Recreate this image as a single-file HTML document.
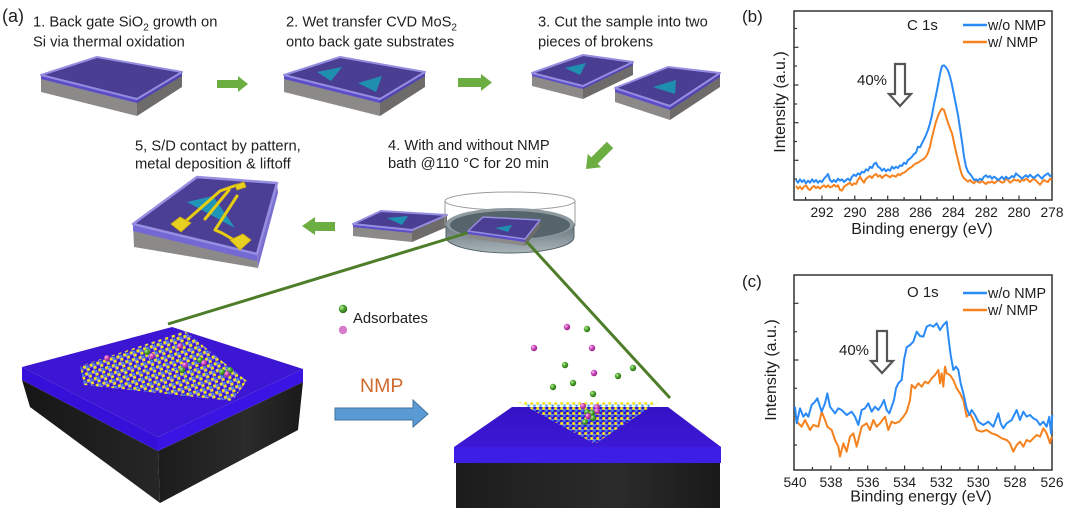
<!DOCTYPE html>
<html><head><meta charset="utf-8"><style>
html,body{margin:0;padding:0;background:#fff;}
svg{display:block;}
text{font-family:"Liberation Sans",Arial,sans-serif;fill:#1e1e1e;}
</style></head><body>
<svg width="1071" height="517" viewBox="0 0 1071 517" xmlns="http://www.w3.org/2000/svg">
<defs>
<radialGradient id="gG" cx="35%" cy="35%" r="70%"><stop offset="0" stop-color="#c4f0a8"/><stop offset="0.45" stop-color="#4fa62f"/><stop offset="1" stop-color="#2a6a16"/></radialGradient>
<radialGradient id="gP" cx="35%" cy="35%" r="70%"><stop offset="0" stop-color="#f8c8f0"/><stop offset="0.45" stop-color="#cf48bb"/><stop offset="1" stop-color="#8a1f7e"/></radialGradient>
<linearGradient id="liq" x1="0" y1="0" x2="0" y2="1"><stop offset="0" stop-color="#66747b"/><stop offset="1" stop-color="#aab5ba"/></linearGradient>
<linearGradient id="blk1" x1="0" y1="0" x2="1" y2="0"><stop offset="0" stop-color="#161616"/><stop offset="1" stop-color="#262626"/></linearGradient>
<linearGradient id="blk2" x1="0" y1="0" x2="1" y2="0"><stop offset="0" stop-color="#1c1c1c"/><stop offset="0.6" stop-color="#2b2b2b"/><stop offset="1" stop-color="#1a1a1a"/></linearGradient>
<linearGradient id="topR" x1="0" y1="0" x2="0" y2="1"><stop offset="0" stop-color="#3512c4"/><stop offset="1" stop-color="#3d18d6"/></linearGradient>
<pattern id="lat1" width="7" height="7" patternUnits="userSpaceOnUse" patternTransform="translate(82,366) rotate(-17)">
 <path d="M0 3.5H7M3.5 0V7" stroke="#b9c6f2" stroke-width="0.6"/>
 <circle cx="1.8" cy="1.8" r="1.5" fill="#f2e812"/>
 <circle cx="5.2" cy="5.2" r="1.5" fill="#f2e812"/>
 <circle cx="5.2" cy="1.8" r="1.1" fill="#38a8e4"/>
</pattern>
<pattern id="lat2" width="6" height="5" patternUnits="userSpaceOnUse" patternTransform="translate(518,402)">
 <path d="M0 2.5H6M3 0V5" stroke="#a9c6f0" stroke-width="0.5"/>
 <circle cx="1.6" cy="1.4" r="1.45" fill="#f2e812"/>
 <circle cx="4.6" cy="3.8" r="1.1" fill="#2f9ee6"/>
</pattern>
</defs>

<!-- ===== Panel (a) texts ===== -->
<text x="2" y="22" font-size="18">(a)</text>
<text x="33" y="26.5" font-size="14.7">1. Back gate SiO<tspan font-size="10" dy="4">2</tspan><tspan dy="-4"> growth on</tspan></text>
<text x="33" y="46.5" font-size="14.7">Si via thermal oxidation</text>
<text x="286" y="26.5" font-size="14.7">2. Wet transfer CVD MoS<tspan font-size="10" dy="4">2</tspan></text>
<text x="286" y="46.5" font-size="14.7">onto back gate substrates</text>
<text x="538" y="26.5" font-size="14.7">3. Cut the sample into two</text>
<text x="538" y="46.5" font-size="14.7">pieces of brokens</text>
<text x="388" y="150" font-size="14.7">4. With and without NMP</text>
<text x="388" y="168" font-size="14.7">bath @110 °C for 20 min</text>
<text x="135" y="150.5" font-size="14.7">5, S/D contact by pattern,</text>
<text x="135" y="168.5" font-size="14.7">metal deposition &amp; liftoff</text>

<!-- Chip 1 -->
<g>
<polygon points="41,75 137,99 137,116 41,92" fill="#8c8a88"/>
<polygon points="137,99 182,72 182,87 137,116" fill="#6e6c6b"/>
<polygon points="41,75 137,99 137,103 41,79" fill="#5b4ec8"/>
<polygon points="137,99 182,72 182,76 137,103" fill="#5044b2"/>
<polygon points="41,75 97,57 182,72 137,99" fill="#4a3e92" stroke="#958de0" stroke-width="2" stroke-linejoin="round"/>
</g>
<!-- Chip 2 -->
<g>
<polygon points="284,75 380,99 380,116 284,92" fill="#8c8a88"/>
<polygon points="380,99 425,72 425,87 380,116" fill="#6e6c6b"/>
<polygon points="284,75 380,99 380,103 284,79" fill="#5b4ec8"/>
<polygon points="380,99 425,72 425,76 380,103" fill="#5044b2"/>
<polygon points="284,75 340,57 425,72 380,99" fill="#4a3e92" stroke="#958de0" stroke-width="2" stroke-linejoin="round"/>
<polygon points="317,72 342,67 331,81" fill="#1f8fb0"/>
<polygon points="358,83 382,76 376,92" fill="#1f8fb0"/>
</g>
<!-- Chip 3a -->
<g>
<polygon points="532,73 583,86 583,99 532,86" fill="#8c8a88"/>
<polygon points="583,86 633,62 633,75 583,99" fill="#6e6c6b"/>
<polygon points="532,73 583,86 583,89 532,76" fill="#5b4ec8"/>
<polygon points="583,86 633,62 633,65 583,89" fill="#5044b2"/>
<polygon points="532,73 583,55 633,62 583,86" fill="#4a3e92" stroke="#958de0" stroke-width="2" stroke-linejoin="round"/>
<polygon points="565,68 586,63 580,75" fill="#1f8fb0"/>
</g>
<!-- Chip 3b -->
<g>
<polygon points="615,88 670,106 670,120 615,102" fill="#8c8a88"/>
<polygon points="670,106 720,73 720,87 670,120" fill="#6e6c6b"/>
<polygon points="615,88 670,106 670,110 615,92" fill="#5b4ec8"/>
<polygon points="670,106 720,73 720,77 670,110" fill="#5044b2"/>
<polygon points="615,88 668,67 720,73 670,106" fill="#4a3e92" stroke="#958de0" stroke-width="2" stroke-linejoin="round"/>
<polygon points="653,87 676,80 675,94" fill="#1f8fb0"/>
</g>

<!-- Green arrows -->
<polygon points="217,80 238,80 238,76 248,84 238,92 238,88 217,88" fill="#6cae42"/>
<polygon points="458,78 481,78 481,74 492,82.5 481,91 481,87 458,87" fill="#6cae42"/>
<polygon points="17,-4.5 -5,-4.5 -5,-9.5 -17,0 -5,9.5 -5,4.5 17,4.5" fill="#6cae42" transform="translate(598,157) rotate(-45)"/>
<polygon points="335,222 315,222 315,217 302,226 315,235 315,231 335,231" fill="#6cae42"/>

<!-- Chip 5 -->
<g>
<polygon points="133,224 257,254 258,268 134,247" fill="#8c8a88"/>
<polygon points="133,224 257,254 257,261 133,231" fill="#7468d4"/>
<polygon points="257,254 277,183 278,193 258,268" fill="#7a70cf"/>
<polygon points="133,224 197,177 277,183 257,254" fill="#4b3f95" stroke="#968ee0" stroke-width="2.5" stroke-linejoin="round"/>
<polygon points="187,202 213,196 235,228" fill="#1f95b8"/>
<g stroke="#e6cc10" stroke-width="3" fill="none" stroke-linejoin="round" stroke-linecap="round">
<polyline points="186,221 220,191 237,185"/>
<polyline points="205,219 229,190"/>
<polyline points="237,196 215,230 222,233 234,240"/>
</g>
<polygon points="171,224 180,217 191,223 181,232" fill="#e8d020" stroke="#c8a810" stroke-width="0.8"/>
<polygon points="230,240 243,234 251,240 240,250" fill="#e8d020" stroke="#c8a810" stroke-width="0.8"/>
<polygon points="235,185 244,182 246,187 237,190" fill="#e8d020" stroke="#c8a810" stroke-width="0.8"/>
</g>

<!-- Chip 4a -->
<g>
<polygon points="353,224 412,230 412,242 353,236" fill="#8c8a88"/>
<polygon points="412,230 447,215 447,227 412,242" fill="#6e6c6b"/>
<polygon points="353,224 412,230 412,233 353,227" fill="#5b4ec8"/>
<polygon points="353,224 381,211 447,215 412,230" fill="#4a3e92" stroke="#958de0" stroke-width="2" stroke-linejoin="round"/>
<polygon points="387,218 408,216 402,225" fill="#1f8fb0"/>
</g>

<!-- Dish -->
<g>
<ellipse cx="510" cy="201" rx="65" ry="9" fill="none" stroke="#9c9c9c" stroke-width="1"/>
<line x1="445" y1="201" x2="445" y2="226" stroke="#9c9c9c" stroke-width="1"/>
<line x1="575" y1="201" x2="575" y2="226" stroke="#9c9c9c" stroke-width="1"/>
<path d="M446,224 L446,237 A64,16 0 0 0 574,237 L574,224 Z" fill="url(#liq)" stroke="#55626a" stroke-width="1"/>
<ellipse cx="510" cy="224" rx="64" ry="16" fill="#8e9aa0"/>
<ellipse cx="510" cy="225" rx="60" ry="14" fill="#56646b"/>
</g>
<!-- Chip in dish -->
<g>
<polygon points="468,231 525,239 525,246 468,238" fill="#8c8a88"/>
<polygon points="525,239 540,220 540,227 525,246" fill="#6e6c6b"/>
<polygon points="468,231 525,239 525,242 468,234" fill="#5b4ec8"/>
<polygon points="468,231 483,217 540,220 525,239" fill="#4a3e92" stroke="#958de0" stroke-width="1.5" stroke-linejoin="round"/>
<polygon points="495,228 512,225 508,232" fill="#1f8fb0"/>
</g>

<!-- Green connecting lines -->
<line x1="467" y1="233" x2="168" y2="324" stroke="#4d7d28" stroke-width="3"/>
<line x1="527" y1="242" x2="670" y2="398" stroke="#4d7d28" stroke-width="3"/>

<!-- Bottom-left chip -->
<g>
<polygon points="22,380 158,451 160,503 30,407" fill="url(#blk1)"/>
<polygon points="158,451 303,382 298,430 160,503" fill="url(#blk2)"/>
<polygon points="22,367 158,437 158,451 22,380" fill="#3610d8"/>
<polygon points="158,437 303,369 303,382 158,451" fill="#3a14e2"/>
<polygon points="22,367 172,327 303,369 158,437" fill="#3c16d2"/>
<polygon points="80,366 185,331 247,381 232,401 84,385" fill="url(#lat1)"/>
<g>
<circle cx="107" cy="358" r="3" fill="url(#gP)"/>
<circle cx="147" cy="352" r="3" fill="url(#gG)"/>
<circle cx="152" cy="356" r="3" fill="url(#gP)"/>
<circle cx="180" cy="346" r="3" fill="url(#gP)"/>
<circle cx="182" cy="370" r="3" fill="url(#gG)"/>
<circle cx="185" cy="365" r="3" fill="url(#gP)"/>
<circle cx="200" cy="360" r="3" fill="url(#gG)"/>
<circle cx="204" cy="363" r="3" fill="url(#gP)"/>
<circle cx="230" cy="370" r="3" fill="url(#gG)"/>
<circle cx="227" cy="374" r="3" fill="url(#gP)"/>
<circle cx="222" cy="372" r="3" fill="url(#gG)"/>
</g>
</g>

<!-- Legend adsorbates -->
<circle cx="343" cy="309" r="4.2" fill="url(#gG)"/>
<circle cx="343" cy="330" r="4.2" fill="#d67ccb"/>
<text x="353" y="323" font-size="14.8">Adsorbates</text>

<!-- NMP arrow -->
<text x="360" y="392" font-size="19.5" style="fill:#d06a2c">NMP</text>
<polygon points="335,408 413,408 413,400 428,414 413,427 413,420 335,420" fill="#5b9bd5" stroke="#41719c" stroke-width="1"/>

<!-- Bottom-right chip -->
<g>
<rect x="456" y="463" width="264" height="45" fill="url(#blk2)"/>
<polygon points="454,447 721,447 721,463 454,463" fill="#3c1ee4"/>
<polygon points="512,407 668,407 721,447 454,447" fill="url(#topR)"/>
<polygon points="518,402 658,402 595,444" fill="url(#lat2)"/>
<g>
<circle cx="567" cy="327" r="3.2" fill="url(#gP)"/>
<circle cx="587" cy="329" r="3.2" fill="url(#gG)"/>
<circle cx="534" cy="348" r="3.2" fill="url(#gP)"/>
<circle cx="592" cy="348" r="3.2" fill="url(#gP)"/>
<circle cx="565" cy="365" r="3.2" fill="url(#gG)"/>
<circle cx="594" cy="373" r="3.2" fill="url(#gP)"/>
<circle cx="633" cy="368" r="3.2" fill="url(#gG)"/>
<circle cx="618" cy="376" r="3.2" fill="url(#gG)"/>
<circle cx="553" cy="387" r="3.2" fill="url(#gG)"/>
<circle cx="573" cy="383" r="3.2" fill="url(#gG)"/>
<circle cx="593" cy="394" r="3.2" fill="url(#gG)"/>
<circle cx="583" cy="406" r="3" fill="url(#gP)"/>
<circle cx="597" cy="407" r="3" fill="url(#gP)"/>
<circle cx="597" cy="411" r="3" fill="url(#gP)"/>
<circle cx="587" cy="412" r="3" fill="url(#gG)"/>
<circle cx="592" cy="413" r="3" fill="url(#gG)"/>
<circle cx="593" cy="418" r="3" fill="url(#gG)"/>
<circle cx="588" cy="416" r="3" fill="url(#gP)"/>
<circle cx="585" cy="422" r="3" fill="url(#gG)"/>
</g>
</g>

<!-- ===== Panel (b) ===== -->
<text x="742" y="22" font-size="17">(b)</text>
<rect x="794" y="11" width="258" height="189" fill="none" stroke="#333" stroke-width="1.5"/>
<g stroke="#333" stroke-width="1.2">
<line x1="794" y1="47.3" x2="798.5" y2="47.3"/><line x1="794" y1="85" x2="798.5" y2="85"/><line x1="794" y1="122.7" x2="798.5" y2="122.7"/><line x1="794" y1="160.3" x2="798.5" y2="160.3"/>
<line x1="794" y1="28.5" x2="797" y2="28.5"/><line x1="794" y1="66" x2="797" y2="66"/><line x1="794" y1="104" x2="797" y2="104"/><line x1="794" y1="141.5" x2="797" y2="141.5"/><line x1="794" y1="179" x2="797" y2="179"/>
<line x1="822" y1="200" x2="822" y2="195.5"/><line x1="838.4" y1="200" x2="838.4" y2="197"/><line x1="854.8" y1="200" x2="854.8" y2="195.5"/><line x1="871.3" y1="200" x2="871.3" y2="197"/><line x1="887.7" y1="200" x2="887.7" y2="195.5"/><line x1="904.1" y1="200" x2="904.1" y2="197"/><line x1="920.6" y1="200" x2="920.6" y2="195.5"/><line x1="937" y1="200" x2="937" y2="197"/><line x1="953.4" y1="200" x2="953.4" y2="195.5"/><line x1="969.9" y1="200" x2="969.9" y2="197"/><line x1="986.3" y1="200" x2="986.3" y2="195.5"/><line x1="1002.7" y1="200" x2="1002.7" y2="197"/><line x1="1019" y1="200" x2="1019" y2="195.5"/><line x1="1035.6" y1="200" x2="1035.6" y2="197"/><line x1="805.6" y1="200" x2="805.6" y2="197"/>
</g>
<g font-size="13.8" text-anchor="middle">
<text x="822" y="217">292</text><text x="855" y="217">290</text><text x="888" y="217">288</text><text x="920.6" y="217">286</text><text x="953.4" y="217">284</text><text x="986.3" y="217">282</text><text x="1019" y="217">280</text><text x="1052" y="217">278</text>
</g>
<text x="922" y="234" font-size="16" text-anchor="middle">Binding energy (eV)</text>
<text transform="translate(785,102) rotate(-90)" font-size="16" text-anchor="middle">Intensity (a.u.)</text>
<text x="907" y="30" font-size="15">C 1s</text>
<line x1="963" y1="25" x2="987" y2="25" stroke="#2a8af6" stroke-width="2.5"/>
<text x="988" y="30" font-size="14.3">w/o NMP</text>
<line x1="963" y1="42" x2="987" y2="42" stroke="#f5821f" stroke-width="2.5"/>
<text x="988" y="47" font-size="14.3">w/ NMP</text>
<text x="857" y="85" font-size="15">40%</text>
<polygon points="895,64 905,64 905,94 911,94 900,106 889,94 895,94" fill="#fff" stroke="#555" stroke-width="2.2" stroke-linejoin="miter"/>
<g transform="translate(740,0) scale(0.333333)" fill="none" stroke-width="6" stroke-linejoin="round">
<polyline stroke="#f5821f" points="168,558 174,566 180,560 186,568 192,560 198,556 204,566 210,570 216,562 222,558 228,564 234,560 240,566 246,560 252,556 258,562 264,556 270,562 276,560 282,554 288,560 294,556 300,570 306,572 312,560 318,556 324,552 330,548 336,556 342,550 348,552 354,540 360,530 366,540 372,548 378,536 384,532 390,528 396,534 402,526 408,522 414,530 420,526 426,534 432,528 438,524 444,528 450,532 456,526 462,528 468,530 474,522 480,526 486,520 492,518 498,514 504,508 510,504 516,500 522,494 528,490 534,488 540,484 546,480 552,476 558,470 564,458 570,440 576,412 582,388 588,365 594,348 600,334 606,326 612,330 618,350 624,368 630,385 636,400 642,428 648,455 654,480 660,505 666,525 672,535 678,540 684,545 690,540 696,546 702,550 708,542 714,546 720,548 726,542 732,548 738,552 744,546 750,548 756,544 762,550 768,546 774,540 780,544 786,548 792,546 798,536 804,540 810,548 816,544 822,538 828,542 834,540 840,546 846,538 852,542 858,536 864,540 870,546 876,540 882,536 888,542 894,548 900,554 906,546 912,540 918,544 924,546 930,536 935,540"/>
<polyline stroke="#2a8af6" points="168,540 174,548 180,538 186,546 192,540 198,550 204,542 210,548 216,538 222,546 228,540 234,548 240,542 246,546 252,536 258,530 264,522 270,540 276,546 282,540 288,546 294,536 300,542 306,538 312,546 318,540 324,536 330,542 336,530 342,524 348,528 354,520 360,524 366,515 372,518 378,508 384,512 390,500 396,504 402,492 408,488 414,500 420,504 426,512 432,506 438,514 444,508 450,512 456,500 462,506 468,500 474,504 480,496 486,498 492,488 498,492 504,480 510,476 516,470 522,462 528,458 534,440 540,442 546,430 552,418 558,405 564,390 570,370 576,345 582,312 588,285 594,255 600,222 606,198 612,196 618,202 624,212 630,230 636,255 642,285 648,315 654,345 660,385 666,425 672,470 678,500 684,515 690,522 696,530 702,540 708,538 714,542 720,536 726,540 732,530 738,526 744,532 750,528 756,536 762,530 768,534 774,540 780,536 786,530 792,538 798,530 804,536 810,534 816,528 822,532 828,520 834,526 840,530 846,536 852,530 858,526 864,532 870,524 876,530 882,534 888,528 894,524 900,530 906,536 912,528 918,524 924,520 930,528 935,526"/>
</g>

<!-- ===== Panel (c) ===== -->
<text x="742" y="287" font-size="17">(c)</text>
<rect x="794" y="275" width="258" height="195" fill="none" stroke="#333" stroke-width="1.5"/>
<g stroke="#333" stroke-width="1.2">
<line x1="794" y1="303.3" x2="798.5" y2="303.3"/><line x1="794" y1="360" x2="798.5" y2="360"/><line x1="794" y1="416.7" x2="798.5" y2="416.7"/>
<line x1="794" y1="331.7" x2="797" y2="331.7"/><line x1="794" y1="388.3" x2="797" y2="388.3"/><line x1="794" y1="445" x2="797" y2="445"/>
<line x1="812.4" y1="470" x2="812.4" y2="467"/><line x1="830.9" y1="470" x2="830.9" y2="465.5"/><line x1="849.3" y1="470" x2="849.3" y2="467"/><line x1="867.7" y1="470" x2="867.7" y2="465.5"/><line x1="886.1" y1="470" x2="886.1" y2="467"/><line x1="904.6" y1="470" x2="904.6" y2="465.5"/><line x1="923" y1="470" x2="923" y2="467"/><line x1="941.4" y1="470" x2="941.4" y2="465.5"/><line x1="959.9" y1="470" x2="959.9" y2="467"/><line x1="978.3" y1="470" x2="978.3" y2="465.5"/><line x1="996.7" y1="470" x2="996.7" y2="467"/><line x1="1015" y1="470" x2="1015" y2="465.5"/><line x1="1033.6" y1="470" x2="1033.6" y2="467"/>
</g>
<g font-size="13.8" text-anchor="middle">
<text x="795" y="487">540</text><text x="831" y="487">538</text><text x="868" y="487">536</text><text x="904.6" y="487">534</text><text x="941.4" y="487">532</text><text x="978.3" y="487">530</text><text x="1015" y="487">528</text><text x="1052" y="487">526</text>
</g>
<text x="921" y="501.5" font-size="16" text-anchor="middle">Binding energy (eV)</text>
<text transform="translate(776,370) rotate(-90)" font-size="16" text-anchor="middle">Intensity (a.u.)</text>
<text x="907" y="297" font-size="15">O 1s</text>
<line x1="963" y1="293" x2="987" y2="293" stroke="#2a8af6" stroke-width="2.5"/>
<text x="988" y="298" font-size="14.3">w/o NMP</text>
<line x1="963" y1="310" x2="987" y2="310" stroke="#f5821f" stroke-width="2.5"/>
<text x="988" y="315" font-size="14.3">w/ NMP</text>
<text x="839" y="355" font-size="15">40%</text>
<polygon points="877,331 887,331 887,361 893,361 882,373 871,361 877,361" fill="#fff" stroke="#555" stroke-width="2.2" stroke-linejoin="miter"/>
<g transform="translate(740,260) scale(0.333333)" fill="none" stroke-width="6" stroke-linejoin="round">
<polyline stroke="#f5821f" points="165,470 175,490 185,500 195,480 210,510 220,495 235,500 245,455 255,480 262,500 275,510 285,540 295,560 300,590 310,550 320,575 330,530 340,520 350,560 365,500 380,490 390,510 400,480 410,500 420,490 435,470 445,510 455,485 465,490 478,485 490,470 500,455 510,420 515,375 525,385 535,370 545,380 555,365 565,370 575,355 585,345 595,330 600,370 605,340 610,380 615,320 620,340 630,345 640,360 650,385 660,400 670,420 680,470 690,460 700,480 710,510 725,515 740,510 755,520 770,525 785,535 800,540 810,550 820,575 830,555 840,545 850,560 860,540 870,545 880,535 890,525 900,530 910,505 920,520 930,550 935,530"/>
<polyline stroke="#2a8af6" points="165,440 170,490 180,445 190,470 198,460 205,470 215,435 225,425 232,415 240,440 245,455 255,430 262,400 270,440 285,460 295,445 305,450 320,465 335,455 345,470 355,495 365,450 375,445 385,430 395,455 405,440 415,450 425,435 432,420 440,450 448,460 455,440 462,420 468,385 475,370 485,360 492,300 500,262 510,255 520,245 530,215 540,228 550,230 560,200 570,195 580,200 590,190 600,210 610,195 620,185 625,230 632,285 640,330 648,320 655,330 662,370 670,400 680,445 688,465 695,450 705,465 715,485 730,495 745,485 760,500 775,460 782,490 790,505 800,490 815,480 830,450 840,480 850,455 860,470 870,465 880,475 890,480 900,495 910,485 920,500 928,470 933,520 937,465"/>
</g>
</svg>
</body></html>
